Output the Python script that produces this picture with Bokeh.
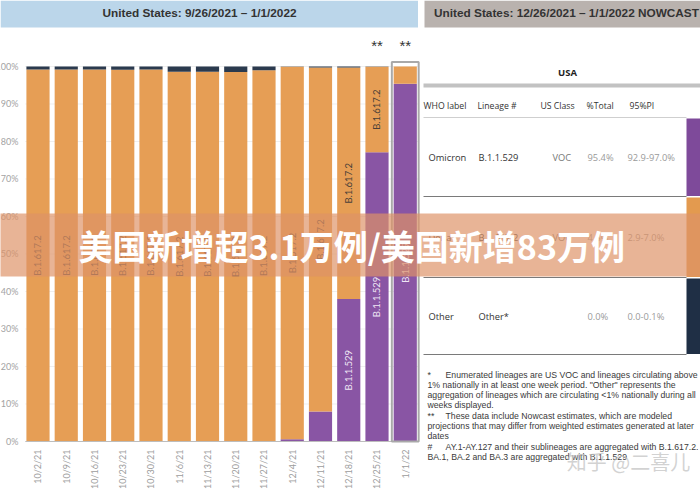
import math
from bokeh.plotting import figure
from bokeh.models import Range1d, FixedTicker, ColumnDataSource, LinearAxis
from bokeh.core.properties import value
from bokeh.embed import file_html
from bokeh.resources import INLINE

# ---------------- data ----------------
weeks = ["10/2/21", "10/9/21", "10/16/21", "10/23/21", "10/30/21", "11/6/21",
         "11/13/21", "11/20/21", "11/27/21", "12/4/21", "12/11/21", "12/18/21",
         "12/25/21", "1/1/22"]
omicron = [0.0, 0.0, 0.0, 0.0, 0.0, 0.0, 0.0, 0.0, 0.0, 0.6, 8.0, 38.0, 77.1, 95.4]
delta = [99.2, 99.2, 99.2, 99.1, 99.2, 98.6, 98.6, 98.5, 99.0, 99.3, 91.7, 61.7, 22.8, 4.6]
other = [0.8, 0.8, 0.8, 0.9, 0.8, 1.4, 1.4, 1.5, 1.0, 0.1, 0.3, 0.3, 0.1, 0.0]
nowcast = [False, False, False, False, False, False, False, False, False, False,
           False, False, True, True]
series_names = ["B.1.1.529", "B.1.617.2", "Other"]

pct_ticks = [0, 10, 20, 30, 40, 50, 60, 70, 80, 90, 100]
pct_labels = ["0%", "10%", "20%", "30%", "40%", "50%", "60%", "70%", "80%", "90%", "100%"]

left_title = "United States: 9/26/2021 \u2013 1/1/2022"
right_title = "United States: 12/26/2021 \u2013 1/1/2022 NOWCAST"
table_title = "USA"
table_headers = ["WHO label", "Lineage #", "US Class", "%Total", "95%PI"]
who_labels = ["Omicron", "Delta", "Other"]
lineages = ["B.1.1.529", "B.1.617.2", "Other*"]
us_class = ["VOC", "VOC", ""]
pct_total = ["95.4%", "4.6%", "0.0%"]
pi95 = ["92.9-97.0%", "2.9-7.0%", "0.0-0.1%"]

footnote_marks = ["*", "", "", "", "**", "", "", "#", ""]
footnote_lines = [
    "Enumerated lineages are US VOC and lineages circulating above",
    "1% nationally in at least one week period. \"Other\" represents the",
    "aggregation of lineages which are circulating <1% nationally during all",
    "weeks displayed.",
    "These data include Nowcast estimates, which are modeled",
    "projections that may differ from weighted estimates generated at later",
    "dates",
    "AY.1-AY.127 and their sublineages are aggregated with B.1.617.2.",
    "BA.1, BA.2 and BA.3 are aggregated with B.1.1.529",
]
banner_text = "美国新增超3.1万例/美国新增83万例"
watermark = "知乎 @二喜儿"

# ---------------- styles ----------------
C_OMI = "#8955A4"
C_DEL = "#E69E55"
C_OTH = "#2B3A4E"
C_OMI2 = "#7E4A9A"
C_DEL2 = "#E39A4F"
C_OTH2 = "#1F2F45"
SANS = "Liberation Sans"
TAB = "Open Sans"
LAT = "Lato"

W, H = 700, 490
p = figure(width=W, height=H,
           x_range=Range1d(-1.3274, 23.4513), y_range=Range1d(-13.067, 117.6),
           x_axis_type=None, y_axis_type=None,
           output_backend="svg", toolbar_location=None, min_border=0,
           outline_line_color=None, background_fill_color="white",
           border_fill_color="white")
p.xgrid.visible = False
p.ygrid.visible = False
p.extra_x_ranges = {"px": Range1d(0, W)}
p.extra_y_ranges = {"px": Range1d(H, 0)}
PX = dict(x_range_name="px", y_range_name="px")

xs = list(range(len(weeks)))

# faint grid lines
p.segment(x0=[-0.45] * len(pct_ticks[1:]), x1=[13.45] * len(pct_ticks[1:]),
          y0=pct_ticks[1:], y1=pct_ticks[1:], line_color="#efefef", line_width=1)

src = ColumnDataSource(dict(x=xs, omicron=omicron, delta=delta, other=other))
p.vbar_stack(["omicron", "delta", "other"], x="x", width=0.82, source=src,
             color=[C_OMI, C_DEL, C_OTH], line_color=None)

# baseline
p.segment(x0=[-0.45], x1=[13.45], y0=[0], y1=[0], line_color="#bdbdbd", line_width=1)

# bar labels
lab_x, lab_y, lab_t, lab_c = [], [], [], []
for i in xs:
    if delta[i] >= 10:
        lab_x.append(i); lab_y.append(omicron[i] + delta[i] / 2)
        lab_t.append(series_names[1]); lab_c.append("#4a4038")
    if omicron[i] >= 10:
        lab_x.append(i); lab_y.append(omicron[i] / 2)
        lab_t.append(series_names[0]); lab_c.append("#efe6f5")
p.text(x=lab_x, y=lab_y, text=lab_t, text_color=lab_c, angle=math.pi / 2,
       text_align="center", text_baseline="middle", text_font=value(LAT),
       text_font_size="9.5px")

# nowcast markers and highlight box
nx = [i for i in xs if nowcast[i]]
p.text(x=nx, y=[105.6] * len(nx), text=["**"] * len(nx), text_align="center",
       text_baseline="middle", text_font=value(SANS), text_font_size="15px",
       text_color="#333333")
last = xs[-1]
p.rect(x=[last], y=[50.6], width=0.95, height=101.2, fill_color=None,
       line_color="#a9a9a9", line_width=2)

# axes
yaxis = LinearAxis(ticker=FixedTicker(ticks=pct_ticks),
                   major_label_overrides={t: l for t, l in zip(pct_ticks, pct_labels)},
                   fixed_location=-0.4425, axis_line_color=None,
                   major_tick_line_color=None, minor_tick_line_color=None,
                   major_label_text_color="#a3a3a3", major_label_text_font=LAT,
                   major_label_text_font_size="9px", major_label_standoff=1)
p.add_layout(yaxis, "left")
xaxis = LinearAxis(ticker=FixedTicker(ticks=xs),
                   major_label_overrides={i: w for i, w in zip(xs, weeks)},
                   fixed_location=0, axis_line_color=None,
                   major_tick_line_color=None, minor_tick_line_color=None,
                   major_label_orientation=math.pi / 2,
                   major_label_text_color="#9c9c9c", major_label_text_font=LAT,
                   major_label_text_font_size="9px", major_label_standoff=2)
p.add_layout(xaxis, "below")

# title bands
p.quad(left=[0, 424], right=[417.5, 700], top=[0, 0], bottom=[27, 27],
       color=["#BBD6EA", "#B9B2AE"], line_color=None, **PX)
p.text(x=[199, 566], y=[12.5, 12.5], text=[left_title, right_title],
       text_align="center", text_baseline="middle", text_font=value(SANS),
       text_font_style="bold", text_font_size="11.8px", text_color="#333333", **PX)

# table
p.text(x=[567], y=[71.5], text=[table_title], text_align="center",
       text_baseline="middle", text_font=value(TAB), text_font_style="bold",
       text_font_size="9.5px", text_color="#222222", **PX)
p.segment(x0=[423], x1=[700], y0=[85], y1=[85], line_color="#c2c2c2", line_width=4, **PX)
hx = [423, 477, 540, 586, 629]
p.text(x=hx, y=[105.5] * 5, text=table_headers, text_baseline="middle",
       text_font=value(TAB), text_font_size="8.7px", text_color="#333333", **PX)
p.segment(x0=[423], x1=[686], y0=[117], y1=[117], line_color="#cfcfcf", line_width=1, **PX)

row_top = [117, 196, 277]
row_bot = [196, 277, 354]
row_mid = [(a + b) / 2 for a, b in zip(row_top, row_bot)]
p.quad(left=[686] * 3, right=[700] * 3, top=[t + 1 for t in row_top],
       bottom=[b - 0.5 for b in row_bot], color=[C_OMI2, C_DEL2, C_OTH2],
       line_color=None, **PX)
p.segment(x0=[423] * 3, x1=[686] * 3, y0=row_bot, y1=row_bot,
          line_color="#7a7a7a", line_width=1, **PX)
for col_x, vals, colr in [(428, who_labels, "#333333"), (478, lineages, "#333333"),
                          (552, us_class, "#777777"), (587, pct_total, "#9a9a9a"),
                          (627, pi95, "#9a9a9a")]:
    p.text(x=[col_x] * 3, y=row_mid, text=vals, text_baseline="middle",
           text_font=value(TAB), text_font_size="9.3px", text_color=colr, **PX)

# footnotes
fy = [374 + 10.33 * k for k in range(len(footnote_lines))]
fx = [445 if m else 427 for m in footnote_marks]
p.text(x=[427] * len(footnote_marks), y=fy, text=footnote_marks, text_baseline="middle",
       text_font=value(SANS), text_font_size="8.7px", text_color="#3a3a3a", **PX)
p.text(x=fx, y=fy, text=footnote_lines, text_baseline="middle",
       text_font=value(SANS), text_font_size="8.7px", text_color="#3a3a3a", **PX)

# watermark
wm = p.text(x=[628], y=[461], text=[watermark], text_align="center",
            text_baseline="middle", text_font=value("Noto Sans CJK SC"),
            text_font_size="20px", text_color="#c4c4c4", text_alpha=0.75, **PX)
wm.level = "overlay"

# banner overlay
bq = p.quad(left=[0], right=[700], top=[213], bottom=[276],
            fill_color="rgb(222,146,103)", fill_alpha=0.69, line_color=None, **PX)
bq.level = "overlay"
bt = p.text(x=[78], y=[245], text=[banner_text], text_baseline="middle",
            text_font=value("Noto Sans CJK SC"), text_font_style="bold",
            text_font_size="34px", text_color="white", **PX)
bt.level = "overlay"

open("out.html", "w").write(file_html(p, INLINE))
